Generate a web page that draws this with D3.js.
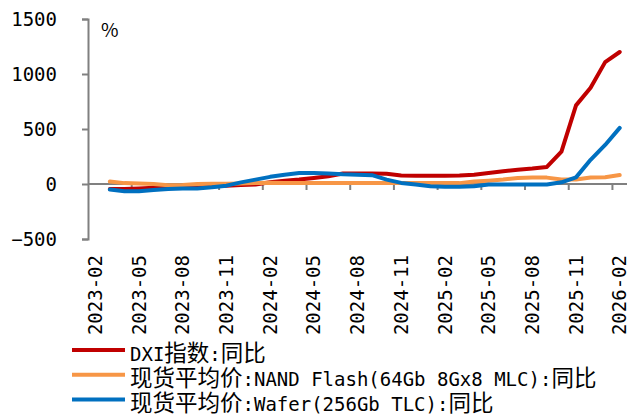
<!DOCTYPE html>
<head>
  <meta charset="utf-8">
  <title>DXI</title>
  <script src="https://d3js.org/d3.v7.min.js"></script>
  <style>
    body { margin: 0; background: #fff; }
    text { font-family: "DejaVu Sans Mono", "Noto Sans CJK SC", monospace; fill: #000; }
    .cjk { font-family: "Noto Sans CJK SC", sans-serif; }
  </style>
</head>
<body>
  <div id="chart"></div>
  <script>
    // Monate (Kategorien)
    var months = [
      '2023-02','2023-03','2023-04','2023-05','2023-06','2023-07','2023-08','2023-09','2023-10','2023-11','2023-12',
      '2024-01','2024-02','2024-03','2024-04','2024-05','2024-06','2024-07','2024-08','2024-09','2024-10','2024-11','2024-12',
      '2025-01','2025-02','2025-03','2025-04','2025-05','2025-06','2025-07','2025-08','2025-09','2025-10','2025-11','2025-12',
      '2026-01','2026-02'
    ];

    // Werte je Serie (% gegenüber Vorjahr)
    var dxi = [null, -45, -45, -40, -35, -30, -25, -20, -20, -15, -10,
      -5, 15, 30, 40, 55, 70, 95, 95, 95, 93, 78, 75,
      75, 75, 78, 85, 100, 115, 130, 140, 155, 295, 715, 875,
      1108, 1200];
    var nandFlash = [null, 22, 8, 5, 0, -12, -8, 0, 2, 3, 5,
      8, 12, 10, 8, 8, 8, 8, 8, 8, 8, 8, 8,
      8, 10, 8, 22, 30, 40, 55, 60, 58, 40, 40, 60,
      62, 82];
    var wafer = [null, -50, -65, -65, -55, -45, -42, -40, -30, -15, 15,
      40, 65, 85, 100, 100, 95, 88, 85, 80, 40, 10, -5,
      -20, -25, -25, -20, -5, -5, -5, -5, -5, 15, 60, 220,
      355, 510];

    var yTicks = [-500, 0, 500, 1000, 1500];

    var series = [
      { name: 'DXI指数:同比', values: dxi, color: '#C00000' },
      { name: '现货平均价:NAND Flash(64Gb 8Gx8 MLC):同比', values: nandFlash, color: '#F79646' },
      { name: '现货平均价:Wafer(256Gb TLC):同比', values: wafer, color: '#0070C0' }
    ];

    var width = 629, height = 415;
    var axisColor = '#808080';
    var fontSize = 19;

    var svg = d3.select('#chart').append('svg')
      .attr('width', width)
      .attr('height', height);

    var x = d3.scaleBand()
      .domain(months)
      .range([88, 627])
      .padding(0);

    var y = d3.scaleLinear()
      .domain([-500, 1500])
      .range([239, 19]);

    // y-Achse
    var yAxis = d3.axisLeft(y)
      .tickValues(yTicks)
      .tickFormat(d3.format('d'))
      .tickSize(6)
      .tickPadding(25);

    var gy = svg.append('g')
      .attr('transform', 'translate(' + x.range()[0] + ',0)')
      .call(yAxis);
    gy.select('.domain').attr('stroke', axisColor).attr('stroke-width', 2);
    gy.selectAll('.tick line').attr('stroke', axisColor).attr('stroke-width', 2);
    gy.selectAll('.tick text')
      .attr('font-size', fontSize)
      .style('font-family', '"DejaVu Sans Mono", monospace');

    // x-Achse auf der Nulllinie
    svg.append('line')
      .attr('x1', x.range()[0])
      .attr('x2', x.range()[1])
      .attr('y1', y(0))
      .attr('y2', y(0))
      .attr('stroke', axisColor)
      .attr('stroke-width', 2);

    var labelled = months.filter(function (m, i) { return i % 3 === 0; });

    svg.selectAll('.xtick')
      .data(labelled.slice(1))
      .enter().append('line')
      .attr('class', 'xtick')
      .attr('x1', function (d) { return x(d); })
      .attr('x2', function (d) { return x(d); })
      .attr('y1', y(0))
      .attr('y2', y(0) + 6)
      .attr('stroke', axisColor)
      .attr('stroke-width', 2);

    svg.selectAll('.xlabel')
      .data(labelled)
      .enter().append('text')
      .attr('class', 'xlabel')
      .attr('transform', function (d) {
        return 'translate(' + (x(d) + x.bandwidth() / 2) + ',255) rotate(-90)';
      })
      .attr('dy', '0.35em')
      .attr('text-anchor', 'end')
      .attr('font-size', fontSize)
      .text(function (d) { return d; });

    // Einheit
    svg.append('text')
      .attr('class', 'cjk')
      .attr('x', 101)
      .attr('y', 37)
      .attr('font-size', 19)
      .text('%');

    // Linien
    var line = d3.line()
      .defined(function (d) { return d != null; })
      .x(function (d, i) { return x(months[i]) + x.bandwidth() / 2; })
      .y(function (d) { return y(d); });

    svg.selectAll('.series')
      .data(series)
      .enter().append('path')
      .attr('class', 'series')
      .attr('fill', 'none')
      .attr('stroke', function (d) { return d.color; })
      .attr('stroke-width', 4)
      .attr('stroke-linejoin', 'round')
      .attr('stroke-linecap', 'round')
      .attr('d', function (d) { return line(d.values); });

    // Legende
    var legend = svg.selectAll('.legend')
      .data(series)
      .enter().append('g')
      .attr('class', 'legend')
      .attr('transform', function (d, i) { return 'translate(0,' + (350 + i * 24.8) + ')'; });

    legend.append('line')
      .attr('x1', 72)
      .attr('x2', 125)
      .attr('stroke', function (d) { return d.color; })
      .attr('stroke-width', 4);

    // Text in Stücke zerlegen: chinesische Zeichen etwas größer
    var legendText = legend.append('text')
      .attr('x', 130)
      .attr('y', 11)
      .attr('font-size', fontSize);

    legendText.selectAll('tspan')
      .data(function (d) { return d.name.match(/[\u4e00-\u9fff]+|[^\u4e00-\u9fff]+/g); })
      .enter().append('tspan')
      .attr('class', function (s) { return /[\u4e00-\u9fff]/.test(s) ? 'cjk' : null; })
      .attr('font-size', function (s) { return /[\u4e00-\u9fff]/.test(s) ? 22.5 : fontSize; })
      .text(function (s) { return s; });
  </script>
</body>
